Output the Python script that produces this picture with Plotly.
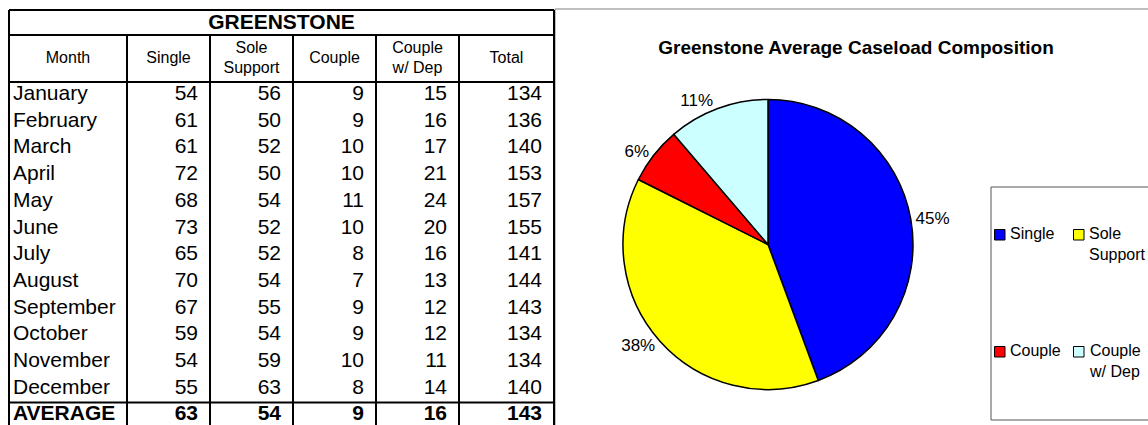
import plotly.graph_objects as go

# ---------------- data ----------------
table_title = "GREENSTONE"
column_headers = ["Month", "Single", "Sole<br>Support", "Couple", "Couple<br>w/ Dep", "Total"]
months = ["January", "February", "March", "April", "May", "June", "July",
          "August", "September", "October", "November", "December"]
single = [54, 61, 61, 72, 68, 73, 65, 70, 67, 59, 54, 55]
sole_support = [56, 50, 52, 50, 54, 52, 52, 54, 55, 54, 59, 63]
couple = [9, 9, 10, 10, 11, 10, 8, 7, 9, 9, 10, 8]
couple_dep = [15, 16, 17, 21, 24, 20, 16, 13, 12, 12, 11, 14]
total = [134, 136, 140, 153, 157, 155, 141, 144, 143, 134, 134, 140]
average_label = "AVERAGE"
average_values = [63, 54, 9, 16, 143]

chart_title = "Greenstone Average Caseload Composition"
pie_labels = ["Single", "Sole<br>Support", "Couple", "Couple<br>w/ Dep"]
pie_values = average_values[:4]
pie_text = ["45%", "38%", "6%", "11%"]
pie_colors = ["#0000FF", "#FFFF00", "#FF0000", "#CCFFFF"]

# ---------------- geometry (page pixels) ----------------
W, H = 1148, 425
FONT = "Liberation Sans, Arial, sans-serif"


def px(x):
    return x / W


def py(y):
    return 1 - y / H


col_widths = [118, 83, 83, 83, 83, 95]
tab_left = 9
title_top, title_bot, head_bot = 10, 35, 82
row_h = 26.7
avg_top = head_bot + row_h * len(months)
tab_bottom = 440

bounds = [tab_left]
for w in col_widths:
    bounds.append(bounds[-1] + w)
tab_right = bounds[-1]

fig = go.Figure()

text_off = 12.8
LEFT_PAD, RIGHT_PAD = 4, 12


def col_anchor(ci):
    return bounds[ci] + LEFT_PAD if ci == 0 else bounds[ci + 1] - RIGHT_PAD


columns = [months, single, sole_support, couple, couple_dep, total]
row_y = [head_bot + row_h * i + text_off for i in range(len(months))]
for ci, col in enumerate(columns):
    fig.add_trace(go.Scatter(
        x=[col_anchor(ci)] * len(col), y=row_y, text=[str(v) for v in col],
        mode="text", textposition="middle right" if ci == 0 else "middle left",
        textfont=dict(family=FONT, size=21, color="black"),
        hoverinfo="skip", showlegend=False, xaxis="x", yaxis="y"))

# AVERAGE row (bold)
avg_cells = [average_label] + [str(v) for v in average_values]
fig.add_trace(go.Scatter(
    x=[col_anchor(ci) for ci in range(len(avg_cells))],
    y=[avg_top + text_off] * len(avg_cells), text=avg_cells, mode="text",
    textposition=["middle right"] + ["middle left"] * (len(avg_cells) - 1),
    textfont=dict(family=FONT, size=21, color="black", weight="bold"),
    hoverinfo="skip", showlegend=False))

# header row
fig.add_trace(go.Scatter(
    x=[(bounds[i] + bounds[i + 1]) / 2 for i in range(len(column_headers))],
    y=[59] * len(column_headers), text=column_headers, mode="text",
    textposition="middle center",
    textfont=dict(family=FONT, size=16, color="black"),
    hoverinfo="skip", showlegend=False))

# merged title row
fig.add_trace(go.Scatter(
    x=[(tab_left + tab_right) / 2], y=[23.5], text=[table_title], mode="text",
    textposition="middle center",
    textfont=dict(family=FONT, size=21, color="black", weight="bold"),
    hoverinfo="skip", showlegend=False))

# Pie chart
cx, cy, r = 768, 244.5, 145
fig.add_trace(go.Pie(
    labels=pie_labels, values=pie_values, text=pie_text,
    textinfo="text", textposition="outside",
    outsidetextfont=dict(family=FONT, size=17, color="black"),
    sort=False, direction="clockwise", rotation=0,
    marker=dict(colors=pie_colors, line=dict(color="black", width=1.5)),
    domain=dict(x=[px(cx - r), px(cx + r)], y=[py(cy + r), py(cy - r)]),
    hoverinfo="skip", showlegend=False,
))

shapes = []
blk = dict(color="black", width=2)


def hline(y, x0, x1, line=blk):
    shapes.append(dict(type="line", xref="x", yref="y", x0=x0, x1=x1, y0=y, y1=y, line=line))


def vline(x, y0, y1, line=blk):
    shapes.append(dict(type="line", xref="x", yref="y", x0=x, x1=x, y0=y0, y1=y1, line=line))


hline(title_top, tab_left, tab_right)
hline(title_bot, tab_left, tab_right)
hline(head_bot, tab_left, tab_right)
hline(avg_top, tab_left, tab_right)
vline(tab_left, title_top, tab_bottom)
vline(tab_right, title_top, tab_bottom)
for b in bounds[1:-1]:
    vline(b, title_bot, tab_bottom)

# chart area border
shapes.append(dict(type="rect", xref="x", yref="y", x0=tab_right + 1, x1=1200,
                   y0=9, y1=tab_bottom, line=dict(color="#808080", width=1), layer="below"))

# legend (2 x 2 grid, entries taken from the pie labels / colours)
leg_box = dict(x0=991, y0=187, x1=1200, y1=420)
shapes.append(dict(type="rect", xref="x", yref="y", **leg_box,
                   line=dict(color="#555555", width=1), layer="below"))
leg_cols = [1010, 1089]
leg_rows = [235, 352]
annotations = []
for k, (lab, colr) in enumerate(zip(pie_labels, pie_colors)):
    tx = leg_cols[k % 2]
    ty = leg_rows[k // 2]
    shapes.append(dict(type="rect", xref="x", yref="y", x0=tx - 15.5, x1=tx - 5,
                       y0=ty - 5.5, y1=ty + 5, fillcolor=colr,
                       line=dict(color="black", width=1)))
    annotations.append(dict(xref="x", yref="y", x=tx - 2, y=ty - 12, text=lab,
                            xanchor="left", yanchor="top", align="left", showarrow=False,
                            font=dict(family=FONT, size=16, color="black")))

fig.update_layout(
    width=W, height=H, autosize=False,
    margin=dict(l=0, r=0, t=0, b=0, autoexpand=False),
    paper_bgcolor="white", plot_bgcolor="rgba(0,0,0,0)",
    font=dict(family=FONT, color="black"),
    title=dict(text="<b>" + chart_title + "</b>", x=px(856), xanchor="center",
               y=py(47), yanchor="middle", font=dict(family=FONT, size=19, color="black")),
    xaxis=dict(range=[0, W], domain=[0, 1], visible=False, fixedrange=True),
    yaxis=dict(range=[H, 0], domain=[0, 1], visible=False, fixedrange=True),
    showlegend=False,
    shapes=shapes,
    annotations=annotations,
)

fig.write_html(
    "out.html",
    config={"displayModeBar": False, "staticPlot": True},
    post_script="document.body.style.margin='0';document.body.style.overflow='hidden';",
)
